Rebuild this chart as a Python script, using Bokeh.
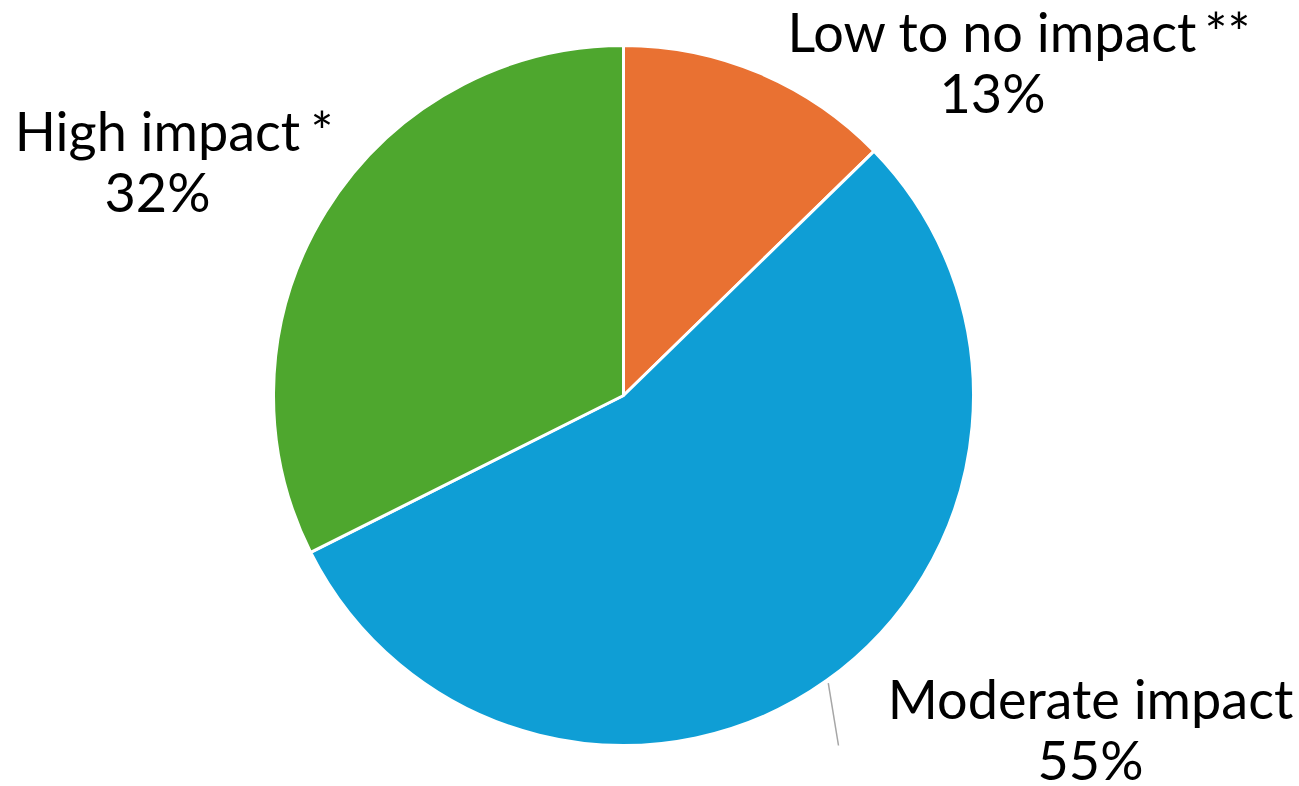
import math
from bokeh.plotting import figure
from bokeh.models import Range1d, ColumnDataSource
from bokeh.core.properties import value
from bokeh.embed import file_html
from bokeh.resources import INLINE

# ---- data ----
categories = ["Low to no impact", "Moderate impact", "High impact"]
shares = [12.7, 54.9, 32.4]          # percent
footnotes = ["**", "", "*"]
colors = ["#E97132", "#0F9ED5", "#4EA72E"]

# ---- layout (screen pixels) ----
W, H = 1299, 786
CX, CY, R = 623, 395, 350
FONT = "Lato"
FS = "54px"
Y_ADJ = -22
label_pos = [(992, 53), (1090, 720), (157, 152)]     # centre x, baseline y of name line
note_pos = [(1204, 53), None, (310, 152)]
LINE_GAP = 61

def fy(y):
    return H - y

p = figure(width=W, height=H, x_range=Range1d(0, W), y_range=Range1d(0, H),
           output_backend="svg", toolbar_location=None, min_border=0,
           outline_line_color=None)
p.axis.visible = False
p.grid.visible = False
p.background_fill_color = "white"
p.border_fill_color = "white"

total = sum(shares)
starts, ends, mids = [], [], []
cum = 0.0
for s in shares:
    a0 = math.pi / 2 - 2 * math.pi * cum / total
    cum += s
    a1 = math.pi / 2 - 2 * math.pi * cum / total
    starts.append(a0)
    ends.append(a1)
    mids.append((a0 + a1) / 2)

src = ColumnDataSource(dict(x=[CX] * 3, y=[fy(CY)] * 3, start=starts, end=ends, color=colors))
p.wedge(x="x", y="y", radius=R, radius_units="screen", start_angle="start", end_angle="end",
        direction="clock", fill_color="color", line_color="white", line_width=3, source=src)

# leader line for the moderate slice
m = mids[1]
sx, sy = CX + (R + 3) * math.cos(m), CY - (R + 3) * math.sin(m)
p.line(x=[sx, 838], y=[fy(sy), fy(745)], line_color="#A6A6A6", line_width=1.5)

# labels
names_x = [lp[0] for lp in label_pos]
names_y = [fy(lp[1] + Y_ADJ) for lp in label_pos]
pct_y = [fy(lp[1] + LINE_GAP + Y_ADJ) for lp in label_pos]
pct_txt = [f"{round(s):d}%" for s in shares]
p.text(x=names_x, y=names_y, text=categories, text_font=value(FONT), text_font_size=FS,
       text_align="center", text_baseline="alphabetic", text_color="black")
p.text(x=names_x, y=pct_y, text=pct_txt, text_font=value(FONT), text_font_size=FS,
       text_align="center", text_baseline="alphabetic", text_color="black")
nx = [n[0] for n in note_pos if n]
ny = [fy(n[1] + Y_ADJ) for n in note_pos if n]
nt = [f for f, n in zip(footnotes, note_pos) if n]
p.text(x=nx, y=ny, text=nt, text_font=value(FONT), text_font_size=FS,
       text_align="left", text_baseline="alphabetic", text_color="black")

open("out.html", "w").write(file_html(p, INLINE))
